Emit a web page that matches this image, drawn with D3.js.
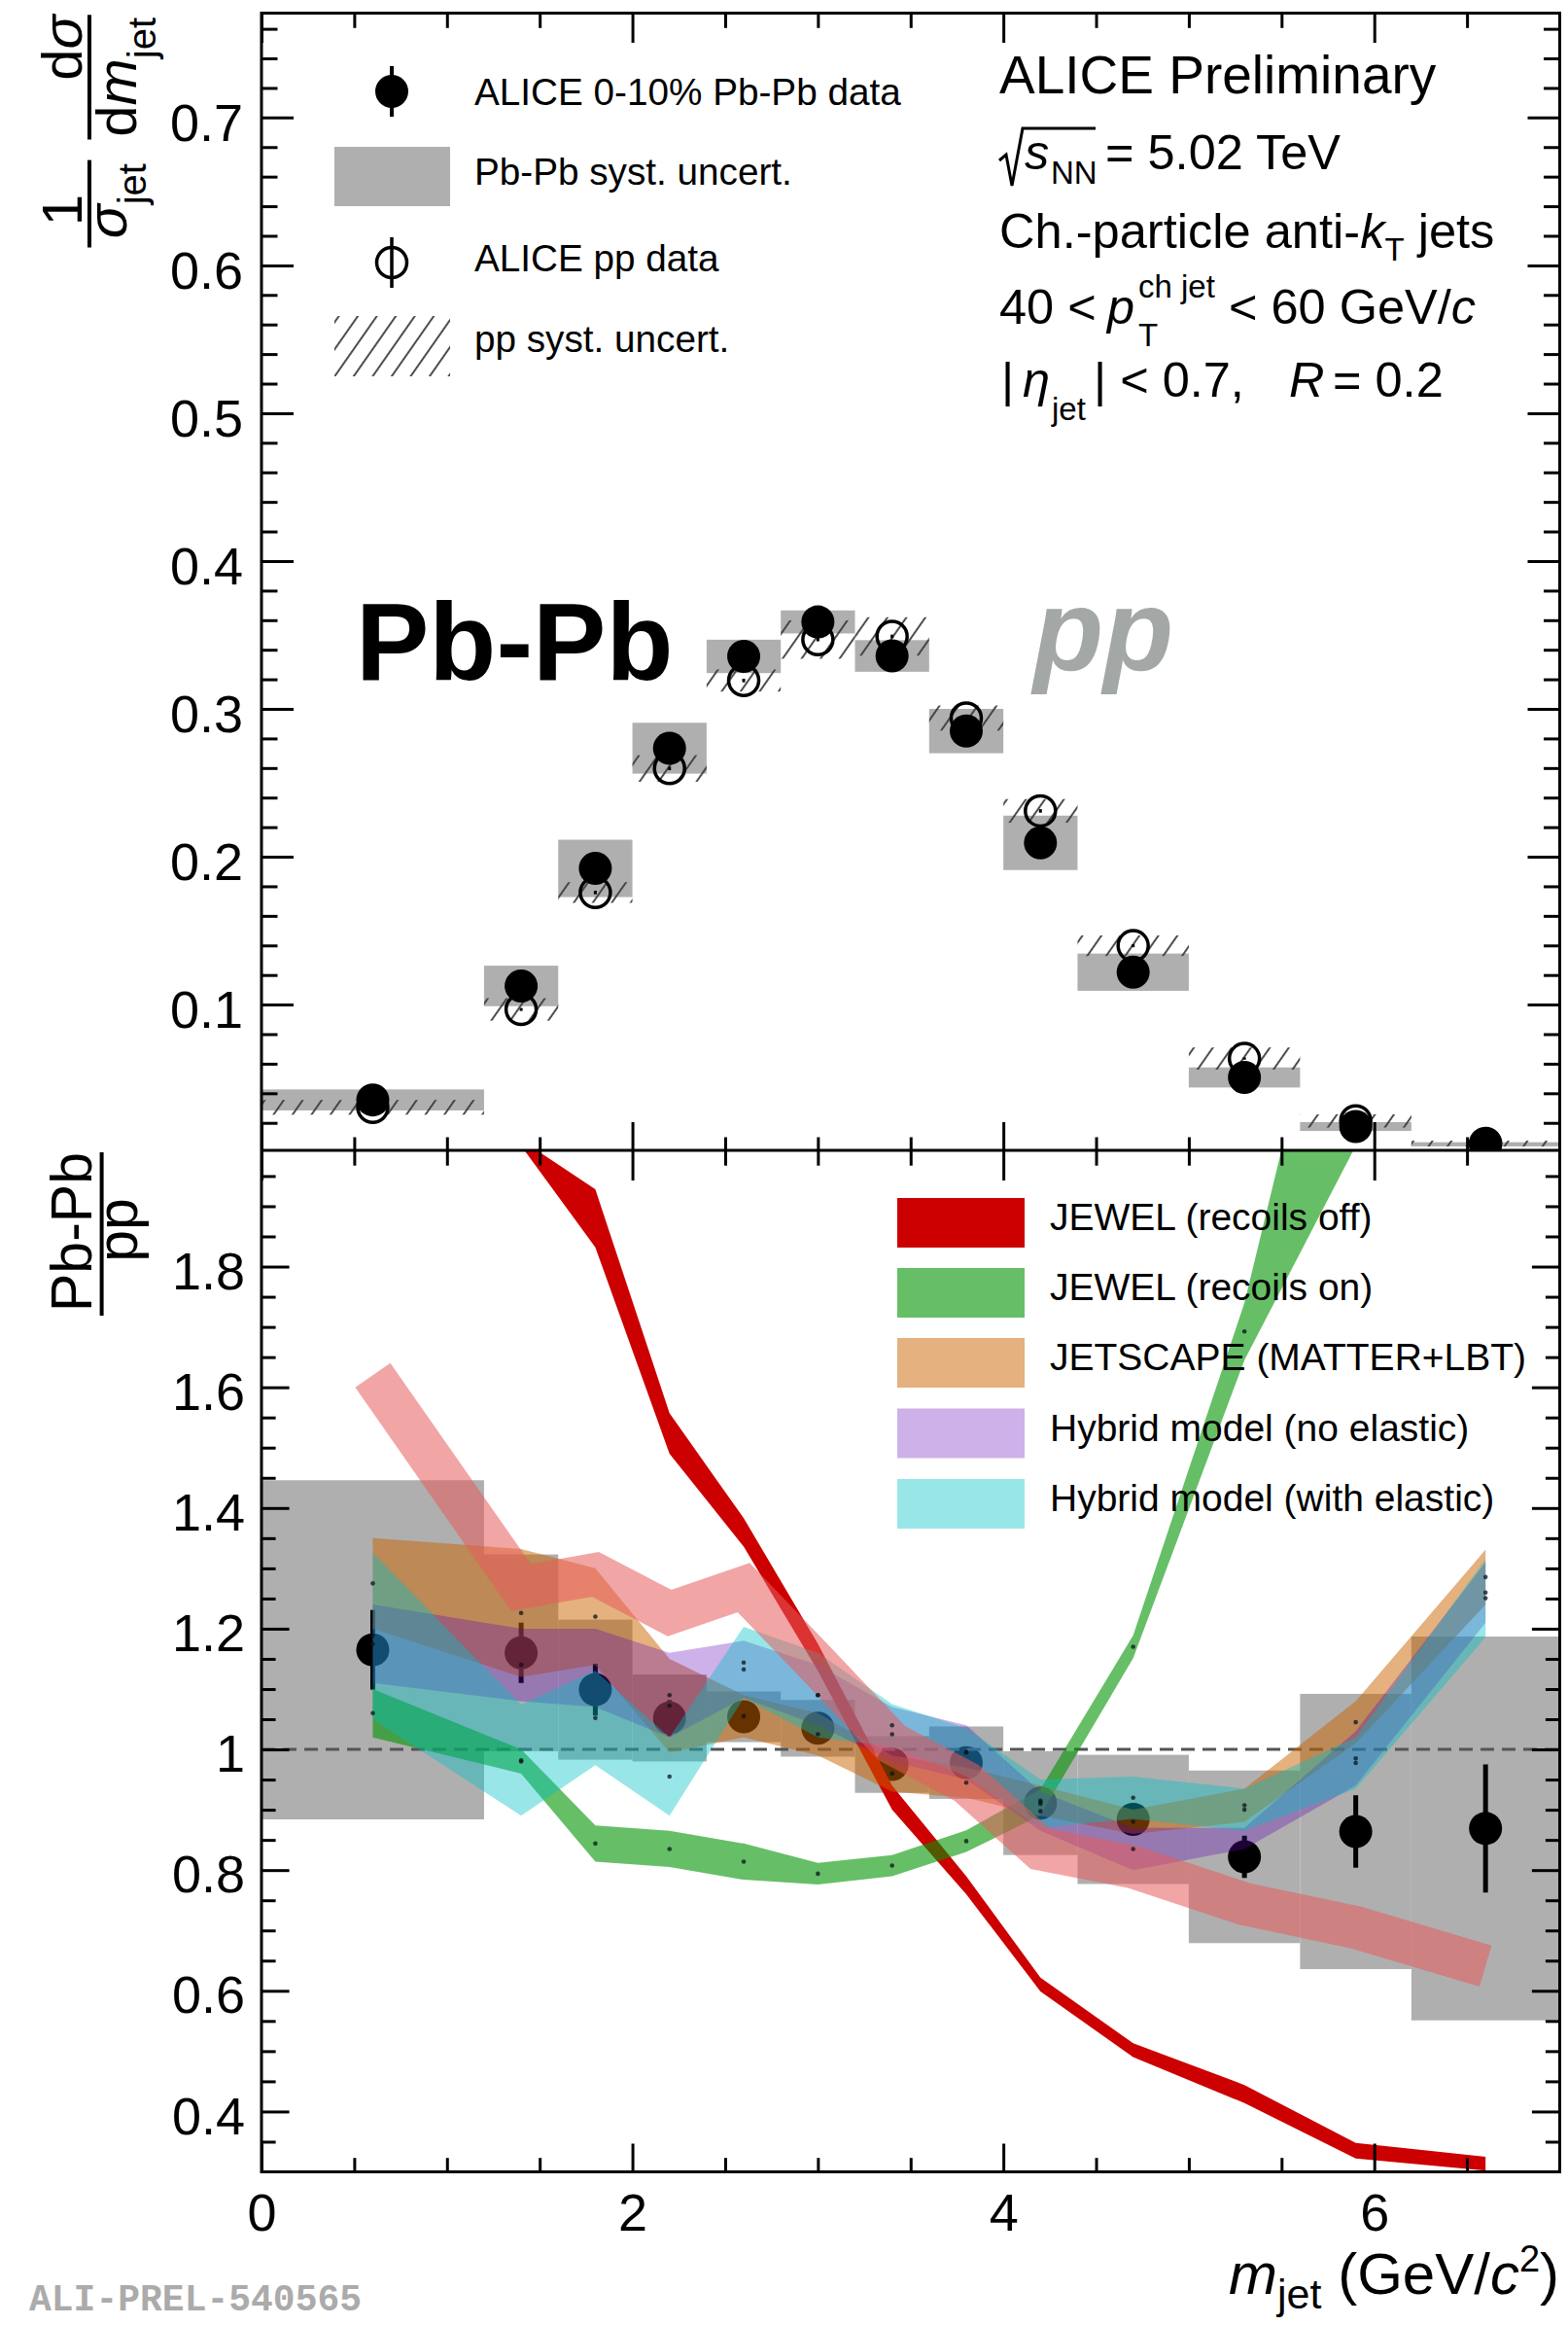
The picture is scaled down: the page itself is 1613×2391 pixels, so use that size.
<!DOCTYPE html>
<html>
<head>
<meta charset="utf-8">
<script src="https://cdn.jsdelivr.net/npm/d3@7"></script>
<style>
  html, body { margin: 0; padding: 0; background: #ffffff; }
  svg { display: block; font-family: "Liberation Sans", Arial, Helvetica, sans-serif; }
</style>
</head>
<body>
<svg id="chart" width="1613" height="2391"></svg>
<script>
// ---------------- data ----------------
// jet-mass bins (GeV/c^2)
const binLow    = [0.0, 1.2, 1.6, 2.0, 2.4, 2.8, 3.2, 3.6, 4.0, 4.4, 5.0, 5.6, 6.2];
const binHigh   = [1.2, 1.6, 2.0, 2.4, 2.8, 3.2, 3.6, 4.0, 4.4, 5.0, 5.6, 6.2, 7.0];
const binCenter = [0.6, 1.4, 1.8, 2.2, 2.6, 3.0, 3.4, 3.8, 4.2, 4.7, 5.3, 5.9, 6.6];

// normalised distributions
const pbpb     = [0.0355, 0.1126, 0.1921, 0.2734, 0.3355, 0.3588, 0.3358, 0.2850, 0.2094, 0.1219, 0.0507, 0.0175, 0.0055];
const pbpbStat = [0.0010, 0.0015, 0.0018, 0.0020, 0.0020, 0.0020, 0.0020, 0.0020, 0.0018, 0.0015, 0.0010, 0.0008, 0.0005];
const pbpbSyst = [0.0071, 0.0137, 0.0194, 0.0172, 0.0113, 0.0078, 0.0107, 0.0150, 0.0184, 0.0126, 0.0068, 0.0030, 0.0014];
const pp       = [0.0305, 0.0967, 0.1758, 0.2597, 0.3192, 0.3469, 0.3490, 0.2938, 0.2310, 0.1398, 0.0635, 0.0213, 0.0060];
const ppStat   = [0.0008, 0.0010, 0.0012, 0.0012, 0.0012, 0.0012, 0.0012, 0.0012, 0.0012, 0.0010, 0.0008, 0.0006, 0.0004];
const ppSyst   = [0.0050, 0.0076, 0.0070, 0.0090, 0.0075, 0.0130, 0.0130, 0.0085, 0.0080, 0.0070, 0.0075, 0.0045, 0.0020];

// Pb-Pb / pp ratio
const ratio     = [1.165, 1.160, 1.099, 1.052, 1.054, 1.035, 0.975, 0.978, 0.911, 0.884, 0.822, 0.864, 0.869];
const ratioStat = [0.066, 0.050, 0.043, 0.030, 0.020, 0.015, 0.015, 0.015, 0.015, 0.020, 0.035, 0.060, 0.106];
const ratioSyst = [0.281, 0.163, 0.116, 0.072, 0.042, 0.047, 0.047, 0.060, 0.086, 0.107, 0.143, 0.228, 0.318];

// model predictions (bands: lower / upper edge)
const jewelOffX  = [1.4, 1.8, 2.2, 2.6, 3.0, 3.4, 3.8, 4.2, 4.7, 5.3, 5.9, 6.6];
const jewelOffHi = [2.010, 1.928, 1.557, 1.383, 1.175, 0.940, 0.790, 0.622, 0.513, 0.444, 0.348, 0.325];
const jewelOffLo = [2.000, 1.832, 1.490, 1.336, 1.130, 0.900, 0.760, 0.599, 0.490, 0.414, 0.322, 0.302];

const jewelOnX  = [0.6, 1.4, 1.8, 2.2, 2.6, 3.0, 3.4, 3.8, 4.2, 4.7, 5.3, 5.9];
const jewelOnHi = [1.100, 1.000, 0.874, 0.865, 0.844, 0.812, 0.825, 0.866, 0.934, 1.189, 1.740, 2.500];
const jewelOnLo = [1.020, 0.960, 0.814, 0.805, 0.784, 0.776, 0.790, 0.830, 0.891, 1.151, 1.645, 2.000];

const jetscapeHi = [1.350, 1.332, 1.300, 1.150, 1.090, 1.060, 0.990, 0.970, 0.940, 0.900, 0.935, 1.080, 1.331];
const jetscapeLo = [1.200, 1.120, 1.140, 0.995, 1.020, 0.990, 0.930, 0.920, 0.890, 0.860, 0.880, 1.010, 1.240];

const hybridNoElHi = [1.240, 1.200, 1.200, 1.160, 1.180, 1.140, 1.070, 1.040, 0.930, 0.870, 0.870, 1.030, 1.310];
const hybridNoElLo = [1.110, 1.080, 1.070, 1.020, 1.085, 1.040, 0.980, 0.950, 0.865, 0.800, 0.835, 0.940, 1.210];

const hybridElHi = [1.326, 1.074, 1.130, 1.020, 1.203, 1.160, 1.075, 1.035, 0.950, 0.955, 0.935, 1.020, 1.315];
const hybridElLo = [1.050, 0.890, 0.974, 0.890, 1.085, 1.020, 1.005, 0.955, 0.870, 0.885, 0.865, 0.935, 1.186];

// additional reference curve (drawn as a wide line)
const extraCurve = [1.620, 1.268, 1.290, 1.226, 1.268, 1.140, 1.010, 0.945, 0.835, 0.805, 0.744, 0.705, 0.641];

const xMajor = [0, 2, 4, 6];
const yTopMajor = [0.1, 0.2, 0.3, 0.4, 0.5, 0.6, 0.7];
const yBotMajor = [0.4, 0.6, 0.8, 1.0, 1.2, 1.4, 1.6, 1.8];

const modelLegend = [
  { label: "JEWEL (recoils off)",          fill: "#cc0000" },
  { label: "JEWEL (recoils on)",           fill: "rgba(0,148,0,0.6)" },
  { label: "JETSCAPE (MATTER+LBT)",        fill: "rgba(201,99,0,0.5)" },
  { label: "Hybrid model (no elastic)",    fill: "rgba(97,3,184,0.31)" },
  { label: "Hybrid model (with elastic)",  fill: "rgba(0,192,197,0.4)" }
];
const extraColor = "rgba(231,91,91,0.55)";

// ---------------- layout ----------------
const L = 269, R = 1604.5, T = 13.5, S = 1183, B = 2233.5;
const x    = d3.scaleLinear().domain([0, 7]).range([L, R]);
const yTop = d3.scaleLinear().domain([0.0014, 0.7706]).range([S, T]);
const yBot = d3.scaleLinear().domain([0.3, 1.9926]).range([B, S]);
const idx  = d3.range(binCenter.length);

const svg  = d3.select("#chart");
const defs = svg.append("defs");
defs.append("clipPath").attr("id", "clipTop").append("rect")
  .attr("x", L).attr("y", T).attr("width", R - L).attr("height", S - T);
defs.append("clipPath").attr("id", "clipBot").append("rect")
  .attr("x", L).attr("y", S).attr("width", R - L).attr("height", B - S);
const hatch = defs.append("pattern").attr("id", "hatch")
  .attr("patternUnits", "userSpaceOnUse").attr("width", 16).attr("height", 16)
  .attr("patternTransform", "rotate(35)");
hatch.append("line").attr("x1", 8).attr("y1", -2).attr("x2", 8).attr("y2", 18)
  .attr("stroke", "#3a3a3a").attr("stroke-width", 1.8);

// ---------------- upper panel: distributions ----------------
const gTop = svg.append("g").attr("clip-path", "url(#clipTop)");

gTop.selectAll("rect.pbsys").data(idx).join("rect").attr("class", "pbsys")
  .attr("x", i => x(binLow[i])).attr("width", i => x(binHigh[i]) - x(binLow[i]))
  .attr("y", i => yTop(pbpb[i] + pbpbSyst[i]))
  .attr("height", i => yTop(pbpb[i] - pbpbSyst[i]) - yTop(pbpb[i] + pbpbSyst[i]))
  .attr("fill", "#afafaf");

gTop.selectAll("rect.ppsys").data(idx).join("rect").attr("class", "ppsys")
  .attr("x", i => x(binLow[i])).attr("width", i => x(binHigh[i]) - x(binLow[i]))
  .attr("y", i => yTop(pp[i] + ppSyst[i]))
  .attr("height", i => yTop(pp[i] - ppSyst[i]) - yTop(pp[i] + ppSyst[i]))
  .attr("fill", "url(#hatch)");

gTop.selectAll("line.ppstat").data(idx).join("line").attr("class", "ppstat")
  .attr("x1", i => x(binCenter[i])).attr("x2", i => x(binCenter[i]))
  .attr("y1", i => yTop(pp[i] - ppStat[i])).attr("y2", i => yTop(pp[i] + ppStat[i]))
  .attr("stroke", "#000").attr("stroke-width", 3);
gTop.selectAll("circle.pp").data(idx).join("circle").attr("class", "pp")
  .attr("cx", i => x(binCenter[i])).attr("cy", i => yTop(pp[i])).attr("r", 15.5)
  .attr("fill", "none").attr("stroke", "#000").attr("stroke-width", 3.5);

gTop.selectAll("line.pbstat").data(idx).join("line").attr("class", "pbstat")
  .attr("x1", i => x(binCenter[i])).attr("x2", i => x(binCenter[i]))
  .attr("y1", i => yTop(pbpb[i] - pbpbStat[i])).attr("y2", i => yTop(pbpb[i] + pbpbStat[i]))
  .attr("stroke", "#000").attr("stroke-width", 4);
gTop.selectAll("circle.pb").data(idx).join("circle").attr("class", "pb")
  .attr("cx", i => x(binCenter[i])).attr("cy", i => yTop(pbpb[i])).attr("r", 17)
  .attr("fill", "#000");

svg.append("text").attr("x", 366).attr("y", 699).attr("font-size", 113)
  .attr("font-weight", "bold").attr("fill", "#000").text("Pb-Pb");
svg.append("text").attr("x", 1063).attr("y", 689).attr("font-size", 118)
  .attr("font-weight", "bold").attr("font-style", "italic").attr("fill", "#a3a7a6").text("pp");

// legend (upper)
svg.append("line").attr("x1", 403).attr("x2", 403).attr("y1", 68).attr("y2", 120)
  .attr("stroke", "#000").attr("stroke-width", 4);
svg.append("circle").attr("cx", 403).attr("cy", 94).attr("r", 17).attr("fill", "#000");
svg.append("rect").attr("x", 344).attr("y", 151).attr("width", 119).attr("height", 61).attr("fill", "#afafaf");
svg.append("line").attr("x1", 403).attr("x2", 403).attr("y1", 244).attr("y2", 296)
  .attr("stroke", "#000").attr("stroke-width", 3.5);
svg.append("circle").attr("cx", 403).attr("cy", 270).attr("r", 15.5)
  .attr("fill", "none").attr("stroke", "#000").attr("stroke-width", 3.5);
svg.append("rect").attr("x", 344).attr("y", 325).attr("width", 119).attr("height", 62).attr("fill", "url(#hatch)");
const topLegendText = ["ALICE 0-10% Pb-Pb data", "Pb-Pb syst. uncert.", "ALICE pp data", "pp syst. uncert."];
const topLegendY = [108, 190, 279, 362];
topLegendText.forEach((t, i) => {
  svg.append("text").attr("x", 488).attr("y", topLegendY[i]).attr("font-size", 38.7).text(t);
});

// info block
const info = svg.append("g").attr("fill", "#000");
info.append("text").attr("x", 1028).attr("y", 96).attr("font-size", 55).text("ALICE Preliminary");
info.append("path").attr("d", "M1028,165 L1035,159 L1041,191 L1052,132 L1127,132")
  .attr("fill", "none").attr("stroke", "#000").attr("stroke-width", 3);
info.append("text").attr("x", 1054).attr("y", 174).attr("font-size", 50.5).attr("font-style", "italic").text("s");
info.append("text").attr("x", 1081).attr("y", 189).attr("font-size", 33).text("NN");
info.append("text").attr("x", 1137).attr("y", 174).attr("font-size", 50.5).text("= 5.02 TeV");
const l3 = info.append("text").attr("x", 1028).attr("y", 254.5).attr("font-size", 50.6);
l3.append("tspan").text("Ch.-particle anti-");
l3.append("tspan").attr("font-style", "italic").text("k");
l3.append("tspan").attr("font-size", 33).attr("dy", 13).text("T");
l3.append("tspan").attr("dy", -13).text(" jets");
info.append("text").attr("x", 1028).attr("y", 333).attr("font-size", 50.5).text("40 <");
info.append("text").attr("x", 1139).attr("y", 333).attr("font-size", 50.5).attr("font-style", "italic").text("p");
info.append("text").attr("x", 1171).attr("y", 306).attr("font-size", 33).text("ch jet");
info.append("text").attr("x", 1171).attr("y", 356).attr("font-size", 33).text("T");
const l4 = info.append("text").attr("x", 1264).attr("y", 333).attr("font-size", 50.5);
l4.append("tspan").text("< 60 GeV/");
l4.append("tspan").attr("font-style", "italic").text("c");
info.append("text").attr("x", 1030).attr("y", 407.6).attr("font-size", 50.5).text("|");
info.append("text").attr("x", 1052).attr("y", 407.6).attr("font-size", 50.5).attr("font-style", "italic").text("η");
info.append("text").attr("x", 1082).attr("y", 432).attr("font-size", 33).text("jet");
info.append("text").attr("x", 1125).attr("y", 407.6).attr("font-size", 50.5).text("| < 0.7,");
info.append("text").attr("x", 1326).attr("y", 407.6).attr("font-size", 50.5).attr("font-style", "italic").text("R");
info.append("text").attr("x", 1371).attr("y", 407.6).attr("font-size", 50.5).text("= 0.2");

// ---------------- lower panel: ratio ----------------
const gBot = svg.append("g").attr("clip-path", "url(#clipBot)");

gBot.selectAll("rect.rsys").data(idx).join("rect").attr("class", "rsys")
  .attr("x", i => x(binLow[i])).attr("width", i => x(binHigh[i]) - x(binLow[i]))
  .attr("y", i => yBot(ratio[i] + ratioSyst[i]))
  .attr("height", i => yBot(ratio[i] - ratioSyst[i]) - yBot(ratio[i] + ratioSyst[i]))
  .attr("fill", "#afafaf");

gBot.selectAll("line.rstat").data(idx).join("line").attr("class", "rstat")
  .attr("x1", i => x(binCenter[i])).attr("x2", i => x(binCenter[i]))
  .attr("y1", i => yBot(ratio[i] - ratioStat[i])).attr("y2", i => yBot(ratio[i] + ratioStat[i]))
  .attr("stroke", "#000").attr("stroke-width", 5);
gBot.selectAll("circle.r").data(idx).join("circle").attr("class", "r")
  .attr("cx", i => x(binCenter[i])).attr("cy", i => yBot(ratio[i])).attr("r", 17)
  .attr("fill", "#000");

gBot.append("line").attr("x1", L).attr("x2", R).attr("y1", yBot(1)).attr("y2", yBot(1))
  .attr("stroke", "#555").attr("stroke-width", 3).attr("stroke-dasharray", "14,8");

function band(xs, lo, hi, fill) {
  const a = d3.area()
    .x((d, i) => x(xs[i]))
    .y0((d, i) => yBot(lo[i]))
    .y1((d, i) => yBot(hi[i]));
  gBot.append("path").datum(xs).attr("d", a).attr("fill", fill);
}
band(jewelOffX, jewelOffLo, jewelOffHi, modelLegend[0].fill);
band(jewelOnX, jewelOnLo, jewelOnHi, modelLegend[1].fill);
band(binCenter, jetscapeLo, jetscapeHi, modelLegend[2].fill);
band(binCenter, hybridNoElLo, hybridNoElHi, modelLegend[3].fill);
band(binCenter, hybridElLo, hybridElHi, modelLegend[4].fill);

const wide = d3.line().x((d, i) => x(binCenter[i])).y(d => yBot(d));
gBot.append("path").datum(extraCurve).attr("d", wide)
  .attr("fill", "none").attr("stroke", extraColor)
  .attr("stroke-width", 44).attr("stroke-linejoin", "miter").attr("stroke-linecap", "butt");

// central-value markers of the model curves
[[jewelOnX, jewelOnLo, jewelOnHi], [binCenter, jetscapeLo, jetscapeHi],
 [binCenter, hybridNoElLo, hybridNoElHi], [binCenter, hybridElLo, hybridElHi]].forEach(([xs, lo, hi]) => {
  gBot.selectAll(null).data(xs).join("circle")
    .attr("cx", (d, i) => x(xs[i])).attr("cy", (d, i) => yBot((lo[i] + hi[i]) / 2))
    .attr("r", 2.3).attr("fill", "rgba(10,20,30,0.75)");
});

// legend (lower)
const legRowY = [1232, 1304, 1376, 1448.5, 1521];
modelLegend.forEach((m, i) => {
  svg.append("rect").attr("x", 923).attr("y", legRowY[i]).attr("width", 131).attr("height", 51).attr("fill", m.fill);
  svg.append("text").attr("x", 1080).attr("y", legRowY[i] + 33).attr("font-size", 39).text(m.label);
});

// ---------------- frame, axes ----------------
const axes = svg.append("g");
function addAxis(gen, scale, values, size, tx, ty, withLabels, fmt, fontSize, pad, dy) {
  const ax = gen(scale).tickValues(values).tickSizeInner(-size).tickSizeOuter(0)
    .tickPadding(pad || 0).tickFormat(withLabels ? fmt : "");
  const g = axes.append("g").attr("transform", `translate(${tx},${ty})`).call(ax);
  g.select(".domain").remove();
  g.selectAll(".tick line").attr("stroke", "#000").attr("stroke-width", 3);
  g.selectAll(".tick text").attr("fill", "#000").attr("font-size", fontSize || 0)
    .attr("font-family", "'Liberation Sans', Arial, Helvetica, sans-serif");
  if (dy) g.selectAll(".tick text").attr("dy", dy);
  return g;
}
const xMinor = d3.range(0.5, 7, 0.5).filter(v => !xMajor.includes(v));
const yTopMinor = d3.range(1, 39).map(k => k * 0.02).filter(v => Math.abs(v * 10 - Math.round(v * 10)) > 1e-6);
const yBotMinor = d3.range(7, 40).map(k => k * 0.05).filter(v => Math.abs(v * 5 - Math.round(v * 5)) > 1e-6);
const fmtTop = d3.format(".1f");
const fmtBot = v => (Math.abs(v - 1) < 1e-9 ? "1" : d3.format(".1f")(v));

// upper panel
addAxis(d3.axisLeft, yTop, yTopMajor, 33, L, 0, true, fmtTop, 54, 19, "0.44em");
addAxis(d3.axisLeft, yTop, yTopMinor, 16.5, L, 0, false);
addAxis(d3.axisRight, yTop, yTopMajor, 33, R, 0, false);
addAxis(d3.axisRight, yTop, yTopMinor, 16.5, R, 0, false);
addAxis(d3.axisTop, x, xMajor, 30.5, 0, T, false);
addAxis(d3.axisTop, x, xMinor, 15.3, 0, T, false);
addAxis(d3.axisBottom, x, xMajor, 29, 0, S, false);
addAxis(d3.axisBottom, x, xMinor, 13.5, 0, S, false);
// lower panel
addAxis(d3.axisLeft, yBot, yBotMajor, 28.6, L, 0, true, fmtBot, 54, 17, "0.42em");
addAxis(d3.axisLeft, yBot, yBotMinor, 14.6, L, 0, false);
addAxis(d3.axisRight, yBot, yBotMajor, 28.6, R, 0, false);
addAxis(d3.axisRight, yBot, yBotMinor, 14.6, R, 0, false);
addAxis(d3.axisTop, x, xMajor, 31, 0, S, false);
addAxis(d3.axisTop, x, xMinor, 15.7, 0, S, false);
addAxis(d3.axisBottom, x, xMajor, 29, 0, B, true, d3.format("d"), 54, 22.6);
addAxis(d3.axisBottom, x, xMinor, 14.3, 0, B, false);

axes.append("rect").attr("x", L).attr("y", T).attr("width", R - L).attr("height", B - T)
  .attr("fill", "none").attr("stroke", "#000").attr("stroke-width", 3);
axes.append("line").attr("x1", L).attr("x2", R).attr("y1", S).attr("y2", S)
  .attr("stroke", "#000").attr("stroke-width", 3);

// ---------------- axis titles ----------------
function rot(xp, yp) { return `translate(${xp},${yp}) rotate(-90)`; }
const ttl = svg.append("g").attr("fill", "#000");
ttl.append("text").attr("transform", rot(84, 216)).attr("text-anchor", "middle").attr("font-size", 58).text("1");
ttl.append("line").attr("x1", 92).attr("x2", 92).attr("y1", 164.6).attr("y2", 254.5).attr("stroke", "#000").attr("stroke-width", 4);
const den1 = ttl.append("text").attr("transform", rot(130, 206.7)).attr("text-anchor", "middle").attr("font-size", 58);
den1.append("tspan").attr("font-style", "italic").text("σ");
den1.append("tspan").attr("font-size", 40).attr("dy", 20).text("jet");
const num2 = ttl.append("text").attr("transform", rot(84, 15.5)).attr("text-anchor", "end").attr("font-size", 58);
num2.append("tspan").text("d");
num2.append("tspan").attr("font-style", "italic").text("σ");
ttl.append("line").attr("x1", 92).attr("x2", 92).attr("y1", 15.3).attr("y2", 143.5).attr("stroke", "#000").attr("stroke-width", 4);
const den2 = ttl.append("text").attr("transform", rot(140, 79.4)).attr("text-anchor", "middle").attr("font-size", 58);
den2.append("tspan").text("d");
den2.append("tspan").attr("font-style", "italic").text("m");
den2.append("tspan").attr("font-size", 40).attr("dy", 20).text("jet");

ttl.append("text").attr("transform", rot(94, 1267)).attr("text-anchor", "middle").attr("font-size", 59).text("Pb-Pb");
ttl.append("line").attr("x1", 104.6).attr("x2", 104.6).attr("y1", 1185).attr("y2", 1353).attr("stroke", "#000").attr("stroke-width", 4);
ttl.append("text").attr("transform", rot(141, 1265)).attr("text-anchor", "middle").attr("font-size", 59).text("pp");

const xt = ttl.append("text").attr("x", 1604).attr("y", 2359).attr("text-anchor", "end").attr("font-size", 60);
xt.append("tspan").attr("font-style", "italic").text("m");
xt.append("tspan").attr("font-size", 43).attr("dy", 15).text("jet");
xt.append("tspan").attr("dy", -15).text(" (GeV/");
xt.append("tspan").attr("font-style", "italic").text("c");
xt.append("tspan").attr("font-size", 38).attr("dy", -23).text("2");
xt.append("tspan").attr("dy", 23).text(")");

svg.append("text").attr("x", 30).attr("y", 2376).attr("font-size", 38)
  .attr("font-family", "'Liberation Mono', 'DejaVu Sans Mono', monospace").attr("font-weight", "bold")
  .attr("fill", "#ababab").text("ALI-PREL-540565");
</script>
</body>
</html>
